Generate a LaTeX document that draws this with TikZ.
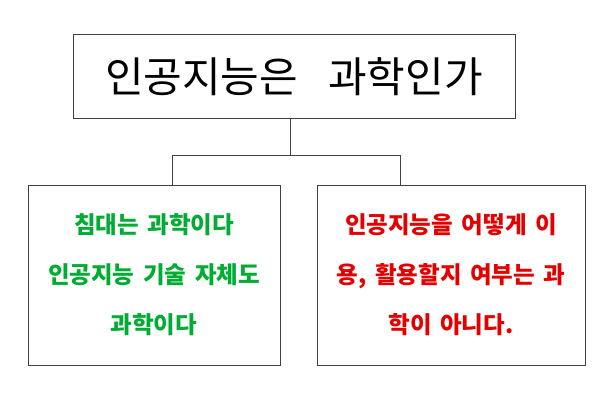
\documentclass[tikz,border=0pt]{standalone}
\usepackage{fontspec}
\setmainfont{Noto Sans CJK KR}[WordSpace=1.6]
\begin{document}
\begin{tikzpicture}[x=1pt,y=-1pt,
  box/.style={draw=black!75,line width=1pt,fill=white},
  line/.style={draw=black!75,line width=1pt}]
\useasboundingbox (0,0) rectangle (613,412);
\node[box,minimum width=442pt,minimum height=83pt,font=\fontsize{42}{46}\selectfont] (top) at (294,76.5) {인공지능은\ \ 과학인가};
\node[box,minimum width=252pt,minimum height=180pt] (L) at (154,275) {};
\node[box,minimum width=268pt,minimum height=180pt] (R) at (451,275) {};
\node[align=center,text=green!60!black!80!cyan,font=\bfseries\fontsize{23.5}{50}\selectfont] (lt) at (L.center) {침대는 과학이다\\인공지능 기술 자체도\\과학이다};
\node[align=center,text=red!90!black,font=\bfseries\fontsize{23.5}{50}\selectfont] (rt) at (R.center) {인공지능을 어떻게 이\\용, 활용할지 여부는 과\\학이 아니다.};
\coordinate (j) at (290,155);
\draw[line] (top.south -| j) -- (j);
\draw[line] (L.north -| 172,0) -- (172,155) -- (400,155) -- (R.north -| 400,0);
\end{tikzpicture}
\end{document}
